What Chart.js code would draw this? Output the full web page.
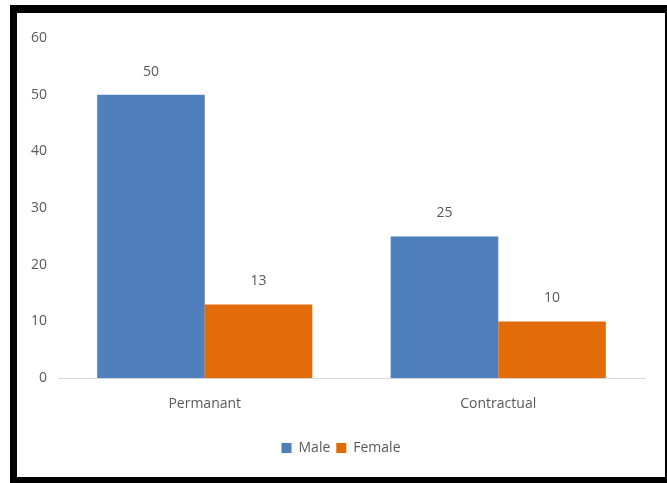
<!DOCTYPE html>
<html>
<head>
<meta charset="utf-8">
<script src="https://cdn.jsdelivr.net/npm/chart.js@4"></script>
<style>
  html, body { margin: 0; padding: 0; background: #fff; }
  #frame {
    position: absolute; left: 10px; top: 5px;
    width: 648px; height: 464px;
    border-style: solid; border-color: #000;
    border-width: 8px 3px 6px 7px;
    background: #fff;
  }
  #wrap { position: relative; width: 648px; height: 464px; }
</style>
</head>
<body>
<div id="frame"><div id="wrap"><canvas id="myChart"></canvas></div></div>
<script>
// data
const categories = ['Permanant', 'Contractual'];
const maleValues = [50, 25];
const femaleValues = [13, 10];
const yTicks = [0, 10, 20, 30, 40, 50, 60];

const textColor = '#595959';
const font = { family: 'Open Sans', size: 14 };

// numbers above each bar
const barLabels = {
  id: 'barLabels',
  afterDatasetsDraw(chart) {
    const ctx = chart.ctx;
    ctx.save();
    ctx.font = '14px "Open Sans"';
    ctx.fillStyle = textColor;
    ctx.textAlign = 'center';
    ctx.textBaseline = 'middle';
    chart.data.datasets.forEach((ds, i) => {
      chart.getDatasetMeta(i).data.forEach((bar, j) => {
        ctx.fillText(ds.data[j], bar.x, bar.y - 23);
      });
    });
    ctx.restore();
  }
};

const ctx = document.getElementById('myChart');

new Chart(ctx, {
  type: 'bar',
  data: {
    labels: categories,
    datasets: [
      { label: 'Male', data: maleValues, backgroundColor: '#4F7FBD' },
      { label: 'Female', data: femaleValues, backgroundColor: '#E36C0A' }
    ]
  },
  options: {
    responsive: true,
    maintainAspectRatio: false,
    animation: false,
    datasets: { bar: { categoryPercentage: 0.733, barPercentage: 1 } },
    layout: { padding: { top: 25, right: 0, bottom: 12, left: 0 } },
    plugins: {
      tooltip: { enabled: false },
      legend: {
        position: 'bottom',
        labels: { boxWidth: 10, boxHeight: 10, padding: 6, color: textColor, font: font }
      }
    },
    scales: {
      x: {
        afterFit: axis => { axis.height += 6; },
        grid: { display: false, drawTicks: false },
        border: { display: true, color: '#D9D9D9', width: 1 },
        ticks: { color: textColor, font: font, padding: 17 }
      },
      y: {
        min: 0, max: 60,
        afterBuildTicks: axis => { axis.ticks = yTicks.map(v => ({ value: v })); },
        afterFit: axis => { axis.width = 41; },
        grid: { display: false, drawTicks: false },
        border: { display: false },
        ticks: { color: textColor, font: font, padding: 11 }
      },
      // empty right axis, only keeps the plot clear of the right edge
      yRight: {
        type: 'linear',
        position: 'right',
        afterFit: axis => { axis.width = 20; },
        grid: { display: false, drawTicks: false },
        border: { display: false },
        ticks: { display: false }
      }
    }
  },
  plugins: [barLabels]
});
</script>
</body>
</html>
